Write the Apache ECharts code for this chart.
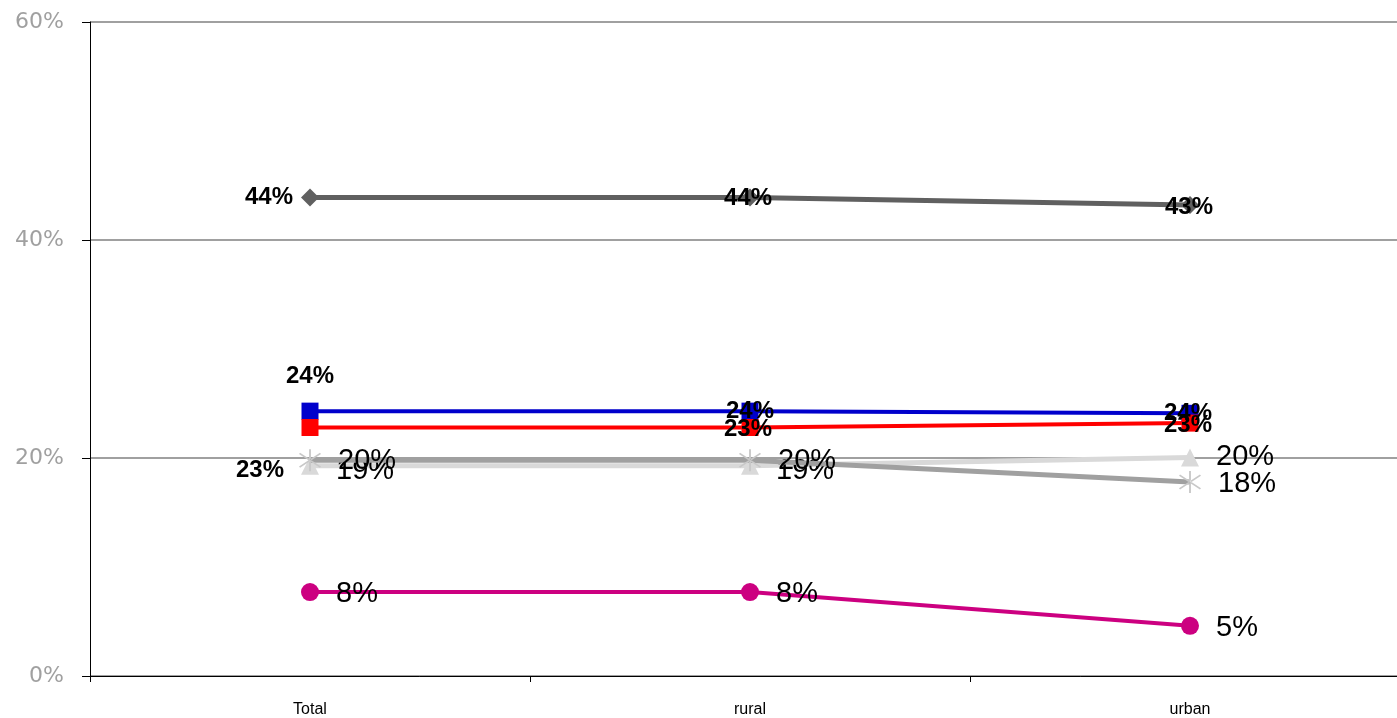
<!DOCTYPE html>
<html>
<head>
<meta charset="utf-8">
<script src="https://cdn.jsdelivr.net/npm/echarts@6/dist/echarts.min.js"></script>
<style>html,body{margin:0;padding:0;background:#fff;overflow:hidden;width:1397px;height:718px;}#c{width:1410px;height:718px;}</style>
</head>
<body>
<div id="c"></div>
<script>
var categories = ['Total', 'rural', 'urban'];
var yTicks = [0, 20, 40, 60];
var darkGray = [43.9, 43.9, 43.2];
var blue = [24.3, 24.3, 24.1];
var red = [22.8, 22.8, 23.2];
var grayStar = [19.8, 19.8, 17.8];
var lightGray = [19.3, 19.3, 20.05];
var magenta = [7.7, 7.7, 4.6];

var starPath = 'path://M-0.7,-10 L0.7,-10 L0.7,10 L-0.7,10 Z M-8.2,-5.7 L-7.4,-6.8 L8.2,5.7 L7.4,6.8 Z M-8.2,5.7 L-7.4,6.8 L8.2,-5.7 L7.4,-6.8 Z';

function pct(p) { return Math.round(p.value) + '%'; }

var boldLbl = { show: true, formatter: pct, color: '#000', fontFamily: 'Liberation Sans, Arial', fontWeight: 'bold', fontSize: 24 };
var plainLbl = { show: true, formatter: pct, color: '#000', fontFamily: 'Liberation Sans, Arial', fontSize: 29, position: 'right', distance: 17 };

function items(vals, labels) {
  return vals.map(function (v, i) { return { value: v, label: labels[i] }; });
}

var chart = echarts.init(document.getElementById('c'), null, { renderer: 'canvas' });
chart.setOption({
  animation: false,
  backgroundColor: '#fff',
  grid: { left: 90, top: 22, right: 0, height: 655, containLabel: false },
  xAxis: {
    type: 'category', data: categories, boundaryGap: true,
    axisLine: { lineStyle: { color: '#000', width: 1 } },
    axisTick: { show: true, length: 6, lineStyle: { color: '#000' } },
    axisLabel: { color: '#000', fontSize: 16, fontFamily: 'Liberation Sans Narrow, Arial Narrow, Liberation Sans', margin: 26 }
  },
  yAxis: {
    type: 'value', min: yTicks[0], max: yTicks[yTicks.length - 1], interval: 20,
    axisLine: { show: true, lineStyle: { color: '#000', width: 1 } },
    axisTick: { show: true, length: 8, lineStyle: { color: '#000' } },
    axisLabel: { formatter: '{value}%', color: '#a0a0a0', fontSize: 22, fontFamily: 'DejaVu Sans', margin: 26 },
    splitLine: { show: true, lineStyle: { color: '#a0a0a0', width: 2 } }
  },
  series: [
    {
      name: 'lightgray', type: 'line', data: items(lightGray, [{}, {}, { offset: [0, 0] }]),
      symbol: 'triangle', symbolSize: 18, z: 3,
      lineStyle: { color: '#d9d9d9', width: 5 }, itemStyle: { color: '#d9d9d9' },
      label: Object.assign({}, plainLbl, { offset: [0, 5] })
    },
    {
      name: 'graystar', type: 'line', data: items(grayStar, [{}, {}, { offset: [0, 2] }]),
      symbol: starPath, symbolSize: 22, z: 4,
      lineStyle: { color: '#a0a0a0', width: 5 }, itemStyle: { color: '#c8c8c8' },
      label: Object.assign({}, plainLbl, { offset: [0, 1] })
    },
    {
      name: 'magenta', type: 'line', data: magenta,
      symbol: 'circle', symbolSize: 18, z: 3,
      lineStyle: { color: '#cc0080', width: 4 }, itemStyle: { color: '#cc0080' },
      label: Object.assign({}, plainLbl, { offset: [0, 2] })
    },
    {
      name: 'blue', type: 'line',
      data: items(blue, [{ position: 'top', distance: 14 }, { position: 'inside' }, { position: 'inside', offset: [-2, 0] }]),
      symbol: 'rect', symbolSize: 17, z: 5,
      lineStyle: { color: '#0000cc', width: 4 }, itemStyle: { color: '#0000cc' },
      label: boldLbl
    },
    {
      name: 'red', type: 'line',
      data: items(red, [{ position: 'inside', offset: [-50, 43] }, { position: 'inside', offset: [-2, 2] }, { position: 'inside', offset: [-2, 2] }]),
      symbol: 'rect', symbolSize: 17, z: 5,
      lineStyle: { color: '#ff0000', width: 4 }, itemStyle: { color: '#ff0000' },
      label: boldLbl
    },
    {
      name: 'darkgray', type: 'line',
      data: items(darkGray, [{ position: 'left', distance: 8 }, { position: 'inside', offset: [-2, 1] }, { position: 'inside', offset: [-1, 2] }]),
      symbol: 'diamond', symbolSize: 18, z: 6,
      lineStyle: { color: '#606060', width: 5 }, itemStyle: { color: '#606060' },
      label: boldLbl
    }
  ]
});
</script>
</body>
</html>
